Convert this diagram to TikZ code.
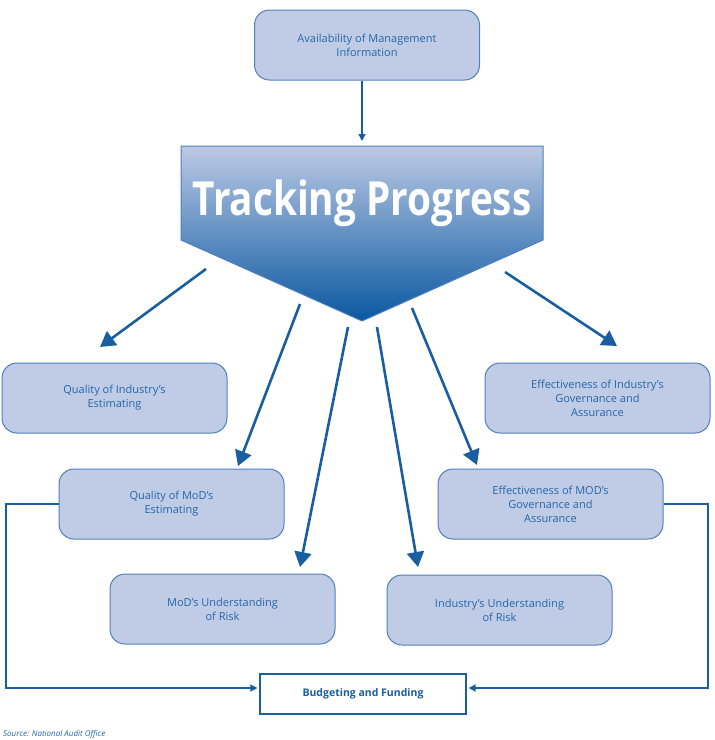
\documentclass[tikz,border=0pt]{standalone}
\usepackage{fontspec}
\setmainfont{Open Sans}
\usetikzlibrary{arrows.meta,calc}
\definecolor{boxfill}{HTML}{C0CCE6}
\definecolor{boxline}{HTML}{4F80BA}
\definecolor{boxtext}{HTML}{2466AA}
\definecolor{arrowc}{HTML}{1A5EA2}
\definecolor{gtop}{HTML}{BCC9E4}
\definecolor{gbot}{HTML}{0A58A2}
\begin{document}
\begin{tikzpicture}[x=1pt,y=-1pt,
 infobox/.style={draw=boxline, fill=boxfill, line width=1pt, rounded corners=15pt,
   minimum width=225pt, minimum height=70pt, align=center, text=boxtext,
   font=\fontsize{11}{14}\selectfont, inner sep=0pt},
 plainbox/.style={draw=arrowc, fill=white, line width=1.2pt, minimum width=206pt,
   minimum height=40pt, text=arrowc, font=\fontsize{10.5}{12.5}\selectfont\bfseries, inner sep=0pt},
 bigarrow/.style={draw=arrowc, line width=2.6pt, -{Triangle[length=15pt,width=17pt]}},
 thinarrow/.style={draw=arrowc, line width=1.4pt, -{Triangle[length=7pt,width=7pt]}}]
\useasboundingbox (0,0) rectangle (715,740);

% top box
\node[infobox] (avail) at (367,45) {Availability of Management\\Information};

% pentagon
\shade[top color=gtop, bottom color=gbot] (181,146) -- (543,146) -- (543,240) -- (362,321) -- (181,240) -- cycle;
\draw[boxline, line width=1pt] (181,146) -- (543,146) -- (543,240) -- (362,321) -- (181,240) -- cycle;
\node[text=white, inner sep=0pt] (title) at (362,203)
  {\resizebox{339pt}{\height}{\fontsize{47}{50}\selectfont\bfseries Tracking Progress}};

% boxes
\node[infobox] (qind) at (114.5,398) {Quality of Industry's\\Estimating};
\node[infobox] (eind) at (597.5,398) {Effectiveness of Industry's\\Governance and\\Assurance};
\node[infobox] (qmod) at (171.5,504) {Quality of MoD's\\Estimating};
\node[infobox] (emod) at (550.5,504) {Effectiveness of MOD's\\Governance and\\Assurance};
\node[infobox] (mrisk) at (222.5,609) {MoD's Understanding\\of Risk};
\node[infobox] (irisk) at (499.5,610) {Industry's Understanding\\of Risk};
\node[plainbox] (budget) at (363,694) {Budgeting and Funding};

% source
\node[anchor=base west, inner sep=0pt, text=boxtext, font=\fontsize{8}{10}\selectfont\itshape] (src) at (3,736.5) {Source: National Audit Office};

% coordinates for arrows
\coordinate (pin) at (362,141);
\coordinate (s1) at (206,269); \coordinate (e1) at (100,347);
\coordinate (s2) at (300,304); \coordinate (e2) at (238,466);
\coordinate (s3) at (348,327); \coordinate (e3) at (300,567);
\coordinate (s4) at (377,327); \coordinate (e4) at (418,567);
\coordinate (s5) at (412,308); \coordinate (e5) at (477,465);
\coordinate (s6) at (505,272); \coordinate (e6) at (617,346);

\draw[thinarrow] (avail.south -| pin) -- (pin);
\draw[bigarrow] (s1) -- (e1);
\draw[bigarrow] (s2) -- (e2);
\draw[bigarrow] (s3) -- (e3);
\draw[bigarrow] (s4) -- (e4);
\draw[bigarrow] (s5) -- (e5);
\draw[bigarrow] (s6) -- (e6);

\coordinate (bl) at ($(budget.west)+(-2,-6)$);
\coordinate (br) at ($(budget.east)+(2,-6)$);
\draw[thinarrow] (qmod.west) -- (6,504) |- (bl);
\draw[thinarrow] (emod.east) -- (708,504) |- (br);
\end{tikzpicture}
\end{document}
